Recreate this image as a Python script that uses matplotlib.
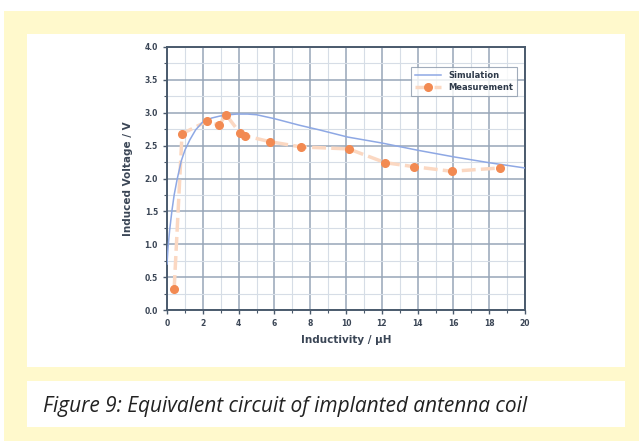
import matplotlib
matplotlib.use("Agg")
import matplotlib.pyplot as plt
from matplotlib.patches import Rectangle
from matplotlib.lines import Line2D
from matplotlib.ticker import MultipleLocator

# simulation curve
sim_x = [0.0, 0.06, 0.15, 0.28, 0.4, 0.56, 0.8, 1.0, 1.28, 1.6, 2.0, 2.5, 2.96, 3.5, 3.9, 4.5, 5.0, 6.0, 7.4, 8.5, 10.1, 12.0, 14.0, 16.0, 18.0, 20.0]
sim_y = [0.7, 0.96, 1.22, 1.52, 1.75, 1.98, 2.27, 2.43, 2.59, 2.74, 2.86, 2.92, 2.95, 2.97, 2.98, 2.98, 2.97, 2.91, 2.81, 2.74, 2.63, 2.54, 2.43, 2.33, 2.24, 2.16]

# measurement points
meas_x = [0.4, 0.84, 2.23, 2.9, 3.3, 4.08, 4.36, 5.75, 7.5, 10.15, 12.2, 13.8, 15.9, 18.6]
meas_y = [0.32, 2.68, 2.87, 2.81, 2.97, 2.69, 2.65, 2.56, 2.48, 2.45, 2.24, 2.18, 2.11, 2.16]

caption = "Figure 9: Equivalent circuit of implanted antenna coil"

sim_color = "#8ea8e4"
meas_color = "#f28a52"
meas_line = "#fbd8c2"

W, H = 639, 441
fig = plt.figure(figsize=(W / 100, H / 100), dpi=100)
fig.patch.set_facecolor("white")


def box(x0, y0, x1, y1, color):
    fig.patches.append(Rectangle((x0 / W, 1 - y1 / H), (x1 - x0) / W, (y1 - y0) / H,
                                 transform=fig.transFigure, facecolor=color,
                                 edgecolor="none", zorder=-10))


box(4, 11, 639, 441, "#fff9cc")
box(27, 34, 625, 367, "white")
box(27, 381, 625, 427, "white")

ax = fig.add_axes([167 / W, 1 - 310 / H, (525 - 167) / W, (310 - 47) / H])
ax.set_facecolor("white")

ax.plot(meas_x, meas_y, color=meas_line, lw=2.5, ls=(0, (4, 1.5)), zorder=2)
ax.plot(meas_x, meas_y, "o", color=meas_color, ms=5.5, zorder=4)
ax.plot(sim_x, sim_y, color=sim_color, lw=1.1, zorder=3)

handles = [Line2D([], [], color=sim_color, lw=1.1),
           Line2D([], [], color=meas_line, lw=2.5, ls=(0, (4, 1.5)), marker="o",
                  mfc=meas_color, mec=meas_color, ms=5.5)]
leg = ax.legend(handles, ["Simulation", "Measurement"], loc="upper right",
                bbox_to_anchor=(0.99, 0.94), frameon=True, fancybox=False,
                handlelength=3.2, borderpad=0.5, labelspacing=0.3,
                prop={"weight": "bold", "size": 6})
leg.get_frame().set_edgecolor("#8a98aa")
leg.get_frame().set_linewidth(0.8)
for t in leg.get_texts():
    t.set_color("#2e3a4a")

ax.set_xlim(0, 20)
ax.set_ylim(0, 4.0)
ax.xaxis.set_major_locator(MultipleLocator(2))
ax.xaxis.set_minor_locator(MultipleLocator(1))
ax.yaxis.set_major_locator(MultipleLocator(0.5))
ax.yaxis.set_minor_locator(MultipleLocator(0.25))
ax.grid(which="major", color="#97a6b8", lw=1.1)
ax.grid(which="minor", color="#d6dde6", lw=0.8)
ax.set_axisbelow(True)

for s in ax.spines.values():
    s.set_color("#4a5a6c")
    s.set_linewidth(1.4)

ax.tick_params(which="both", colors="#4a5a6c", labelcolor="#3b4656", labelsize=5.5)
ax.tick_params(which="major", length=3, width=1)
ax.tick_params(which="minor", length=2, width=0.8)
yt = [0.0, 0.5, 1.0, 1.5, 2.0, 2.5, 3.0, 3.5, 4.0]
ax.set_xticks(range(0, 21, 2))
ax.set_yticks(yt)
ax.set_yticklabels([f"{v:.1f}" for v in yt])
for lab in ax.get_xticklabels() + ax.get_yticklabels():
    lab.set_fontweight("bold")

ax.set_xlabel("Inductivity / µH", fontsize=7.5, fontweight="bold", color="#3b4656", labelpad=5)
ax.set_ylabel("Induced Voltage / V", fontsize=7.5, fontweight="bold", color="#3b4656", labelpad=8)

fig.text(43 / W, 1 - 412 / H, caption, fontsize=15, style="italic",
         family="Open Sans", color="#222222", va="baseline", ha="left")

fig.savefig("out.png", dpi=100)
